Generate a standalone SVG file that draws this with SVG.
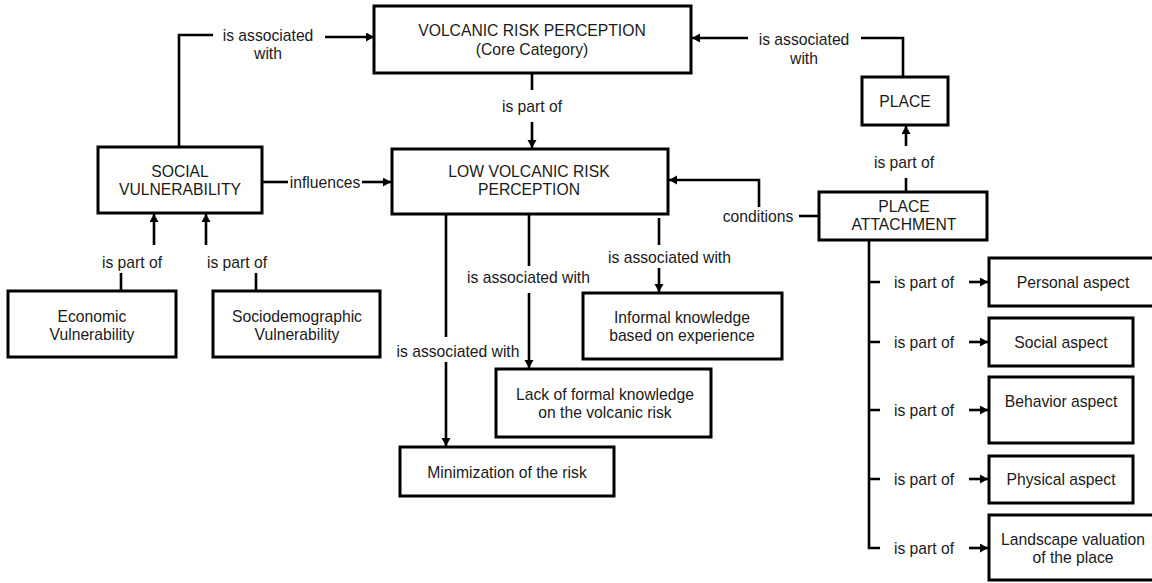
<svg xmlns="http://www.w3.org/2000/svg" width="1152" height="583" viewBox="0 0 1152 583">
<style>
.box{fill:#fff;stroke:#000;stroke-width:3}
.ln{fill:none;stroke:#000;stroke-width:2.6}
.ar{fill:none;stroke:#000;stroke-width:2.6;marker-end:url(#ah)}
text{font-family:"Liberation Sans",Arial,sans-serif;font-size:15.7px;fill:#1a1a1a;text-anchor:middle}
</style>
<defs>
<marker id="ah" markerUnits="userSpaceOnUse" markerWidth="10" markerHeight="10" refX="8" refY="4.5" orient="auto">
<path d="M0,0 L8,4.5 L0,9 z" fill="#000"/>
</marker>
</defs>
<rect width="1152" height="583" fill="#fff"/>
<g id="connectors">
<path class="ln" d="M179,147 V35 H213"/>
<path class="ar" d="M325,37 H374"/>
<path class="ln" d="M532,73 V90"/>
<path class="ar" d="M532,122 V148"/>
<path class="ln" d="M262,182 H288"/>
<path class="ar" d="M362,182 H391"/>
<path class="ln" d="M903,77 V38 H861"/>
<path class="ar" d="M748,38 H692"/>
<path class="ln" d="M906,192 V178"/>
<path class="ar" d="M906,146 V126"/>
<path class="ln" d="M819,216 H799"/>
<path class="ar" d="M759,207 V180 H669"/>
<path class="ln" d="M121,291 V273"/>
<path class="ar" d="M154,245 V214"/>
<path class="ln" d="M256,291 V273"/>
<path class="ar" d="M206,245 V214"/>
<path class="ln" d="M446,214 V337"/>
<path class="ar" d="M446,362 V446"/>
<path class="ln" d="M529,214 V266"/>
<path class="ar" d="M529,293 V368"/>
<path class="ln" d="M659,218 V245"/>
<path class="ar" d="M659,268 V292"/>
<path class="ln" d="M869,240 V548 H880 M869,282 H880 M869,342 H880 M869,410 H880 M869,479 H880"/>
<path class="ar" d="M969,282 H988"/>
<path class="ar" d="M969,342 H988"/>
<path class="ar" d="M969,410 H988"/>
<path class="ar" d="M969,479 H988"/>
<path class="ar" d="M969,548 H988"/>
<text x="268" y="40.5">is associated</text>
<text x="268" y="58.5">with</text>
<text x="532" y="111.5">is part of</text>
<text x="325" y="187.5">influences</text>
<text x="804" y="44.5">is associated</text>
<text x="804" y="63.5">with</text>
<text x="904" y="167.5">is part of</text>
<text x="758" y="221.5">conditions</text>
<text x="132" y="267.5">is part of</text>
<text x="237" y="267.5">is part of</text>
<text x="458" y="356.5">is associated with</text>
<text x="528.5" y="282.5">is associated with</text>
<text x="669.5" y="262.5">is associated with</text>
<text x="924" y="287.5">is part of</text>
<text x="924" y="347.5">is part of</text>
<text x="924" y="415.5">is part of</text>
<text x="924" y="484.5">is part of</text>
<text x="924" y="553.5">is part of</text>
</g>
<g id="vrp"><rect class="box" x="374" y="6" width="317" height="67"/><text x="532" y="35.5">VOLCANIC RISK PERCEPTION</text><text x="532" y="55">(Core Category)</text></g>
<g id="lvrp"><rect class="box" x="392" y="149" width="276" height="65"/><text x="529" y="176.5">LOW VOLCANIC RISK</text><text x="529" y="195">PERCEPTION</text></g>
<g id="sv"><rect class="box" x="98" y="147" width="164" height="66"/><text x="180" y="176.5">SOCIAL</text><text x="180" y="195">VULNERABILITY</text></g>
<g id="place"><rect class="box" x="862" y="77" width="86" height="48"/><text x="905" y="106.5">PLACE</text></g>
<g id="pa"><rect class="box" x="819" y="192" width="168" height="48"/><text x="904" y="211.5">PLACE</text><text x="904" y="230">ATTACHMENT</text></g>
<g id="econ"><rect class="box" x="8" y="291" width="168" height="66"/><text x="92" y="321.5">Economic</text><text x="92" y="340">Vulnerability</text></g>
<g id="socio"><rect class="box" x="213" y="291" width="167" height="66"/><text x="297" y="321.5">Sociodemographic</text><text x="297" y="340">Vulnerability</text></g>
<g id="minim"><rect class="box" x="400" y="447" width="214" height="49"/><text x="507" y="477.5">Minimization of the risk</text></g>
<g id="lack"><rect class="box" x="496" y="369" width="215" height="68"/><text x="605" y="399.5">Lack of formal knowledge</text><text x="605" y="418">on the volcanic risk</text></g>
<g id="informal"><rect class="box" x="583" y="293" width="199" height="66"/><text x="682" y="322.5">Informal knowledge</text><text x="682" y="341">based on experience</text></g>
<g id="personal"><rect class="box" x="989" y="258" width="170" height="48"/><text x="1073" y="287.5">Personal aspect</text></g>
<g id="social"><rect class="box" x="989" y="318" width="144" height="48"/><text x="1061" y="347.5">Social aspect</text></g>
<g id="behavior"><rect class="box" x="989" y="377" width="144" height="66"/><text x="1061" y="406.5">Behavior aspect</text></g>
<g id="physical"><rect class="box" x="989" y="456" width="144" height="47"/><text x="1061" y="484.5">Physical aspect</text></g>
<g id="landscape"><rect class="box" x="989" y="515" width="170" height="65"/><text x="1073" y="544.5">Landscape valuation</text><text x="1073" y="563">of the place</text></g>
</svg>
